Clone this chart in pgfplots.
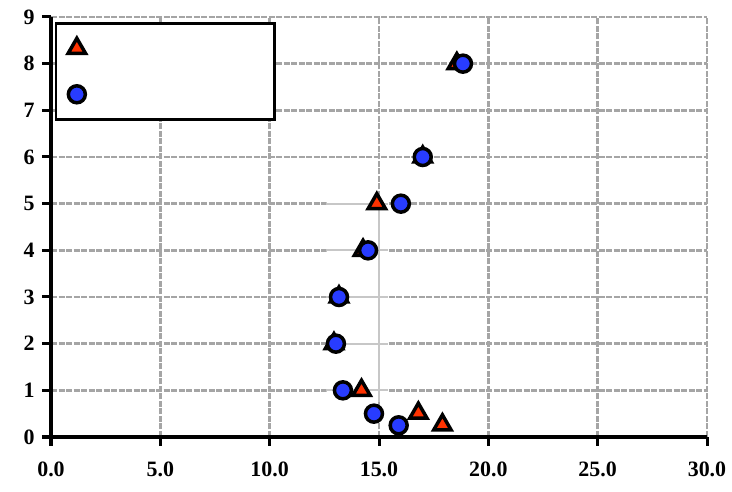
\documentclass[border=0pt]{standalone}
\usepackage{fontspec}
\setmainfont{Liberation Serif}
\usepackage{pgfplots}
\pgfplotsset{compat=1.18}
\definecolor{mred}{RGB}{255,50,0}
\definecolor{mblue}{RGB}{40,60,255}
\definecolor{gridgray}{RGB}{165,165,165}
\begin{document}
\begin{tikzpicture}
\useasboundingbox (-51bp,-55bp) rectangle (681bp,437bp);
\begin{axis}[
  scale only axis,
  width=656bp, height=420bp,
  xmin=0, xmax=30, ymin=0, ymax=9,
  xtick={0,5,...,30}, ytick={0,1,...,9},
  axis x line=bottom, axis y line=left,
  axis line style={line width=3bp, black, -},
  tick align=outside,
  major tick length=9bp,
  tick style={line width=3bp, black},
  grid=major,
  major grid style={gridgray, line width=2.5bp, dash pattern=on 6bp off 1.5bp},
  /pgf/number format/assume math mode=true,
  tick label style={font=\fontsize{22}{25}\selectfont\bfseries},
  xticklabel style={yshift=-12bp, /pgf/number format/fixed, /pgf/number format/fixed zerofill, /pgf/number format/precision=1},
  yticklabel style={xshift=-4bp},
  clip=false,
  legend style={at={(rel axis cs:0.006,0.988)}, anchor=north west,
    draw=black, line width=2.5bp, fill=white,
    inner xsep=12bp, inner ysep=4bp,
    nodes={minimum height=42bp, text width=177bp, inner sep=0pt},
    row sep=4bp},
  legend cell align=left,
]
% faint region
\addplot[fill=white, draw=none, forget plot] coordinates {(12.6,0.75) (15.4,0.75) (15.4,5.15) (12.6,5.15) (12.6,0.75)};
\addplot[black!22, line width=2bp, forget plot, unbounded coords=jump] coordinates {
(12.6,1) (15.4,1) (nan,nan)
(12.6,2) (15.4,2) (nan,nan)
(12.6,3) (15.4,3) (nan,nan)
(12.6,4) (15.4,4) (nan,nan)
(12.6,5) (15.4,5) (nan,nan)
(15,0.75) (15,5.15)};
\addplot[only marks, mark=triangle*, mark size=10bp, mark options={fill=mred, draw=black, line width=3.5bp}] coordinates {
(18.56,8) (17.0,6) (14.9,5) (14.27,4) (13.17,3) (12.94,2) (14.2,1) (16.8,0.51) (17.9,0.26)};
\addlegendentry{\phantom{x}}
\addplot[only marks, mark=*, mark size=8.5bp, mark options={fill=mblue, draw=black, line width=3.5bp}] coordinates {
(18.84,8) (17.0,6) (16.0,5) (14.5,4) (13.17,3) (13.03,2) (13.35,1) (14.77,0.5) (15.9,0.25)};
\addlegendentry{\phantom{x}}
\end{axis}
\end{tikzpicture}
\end{document}
